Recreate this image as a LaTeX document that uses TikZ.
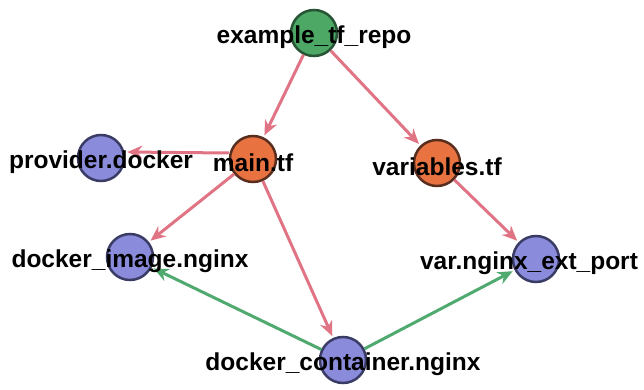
\documentclass[tikz,border=0pt]{standalone}
\usepackage{fontspec}
\setmainfont{Liberation Sans}
\usetikzlibrary{arrows.meta, positioning}
\definecolor{repogreen}{RGB}{76,168,100}
\definecolor{repoline}{RGB}{38,84,52}
\definecolor{fileorange}{RGB}{232,115,64}
\definecolor{fileline}{RGB}{90,46,30}
\definecolor{resblue}{RGB}{138,140,219}
\definecolor{resline}{RGB}{58,60,102}
\definecolor{linkpink}{RGB}{224,116,132}
\definecolor{linkgreen}{RGB}{80,170,112}
\tikzset{
  dotnode/.style={
    circle,
    minimum size=46pt,
    inner sep=0pt,
    line width=2.5pt
  },
  repodot/.style={dotnode, fill=repogreen, draw=repoline},
  tfdot/.style={dotnode, fill=fileorange, draw=fileline},
  resdot/.style={dotnode, fill=resblue, draw=resline},
  caption/.style={
    font=\fontsize{24.5}{29}\selectfont\bfseries,
    inner sep=0pt,
    yshift=-4pt
  },
  contains/.style={draw=linkpink, line width=3pt, ->, shorten >=2pt},
  uses/.style={draw=linkgreen, line width=3pt, ->, shorten >=2pt}
}

\begin{document}
\begin{tikzpicture}[x=1pt, y=-1pt, >={Stealth[length=15pt,width=13pt]}]
    \useasboundingbox (0,0) rectangle (644,390);
    \node (repo) [repodot] at (314,33) {};
    \node (main) [tfdot] at (253,159) {};
    \node (vars) [tfdot] at (437,163) {};
    \node (provider) [resdot] at (101,158) {};
    \node (image) [resdot] at (130,257) {};
    \node (port) [resdot] at (536,259) {};
    \node (container) [resdot] at (343,360) {};
    \path
    (repo) edge [contains] (main)
    (repo) edge [contains] (vars)
    ([yshift=6pt]main.west) edge [contains] ([yshift=6pt]provider.east)
    (main) edge [contains] (image)
    (main) edge [contains] (container)
    (vars) edge [contains] (port)
    (container) edge [uses] (image)
    (container) edge [uses] (port)
    ;
    % names on top of the dots
    \node (repolbl) [caption] at (repo) {example\_tf\_repo};
    \node (mainlbl) [caption] at (main) {main.tf};
    \node (varslbl) [caption] at (vars) {variables.tf};
    \node (providerlbl) [caption] at (provider) {provider.docker};
    \node (imagelbl) [caption] at (image) {docker\_image.nginx};
    \node (portlbl) [caption, xshift=-7pt] at (port) {var.nginx\_ext\_port};
    \node (containerlbl) [caption] at (container) {docker\_container.nginx};
\end{tikzpicture}
\end{document}
